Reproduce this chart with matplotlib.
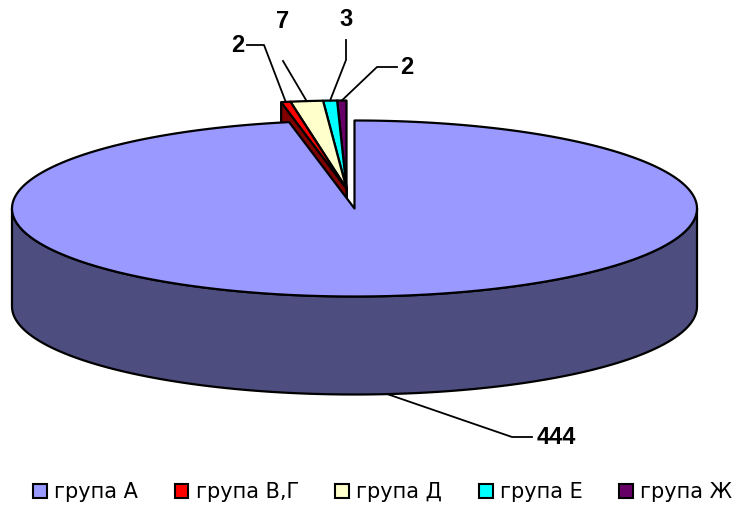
import numpy as np
import matplotlib.pyplot as plt
from matplotlib.patches import Polygon, Rectangle

# данни
labels = ['група А', 'група В,Г', 'група Д', 'група Е', 'група Ж']
values = [444, 2, 7, 3, 2]
top_colors = ['#9999FF', '#FF0000', '#FFFFCC', '#00FFFF', '#660066']
side_colors = ['#4D4D80', '#800000', '#80806A', '#008080', '#330033']

# геометрия на 3D питата (в пиксели)
cx, cy = 354.5, 208.5
rx, ry = 342.5, 88.0
depth = 98.0
explode_dx, explode_dy = -8.0, -20.0


def rim(theta, dx=0.0, dy=0.0):
    t = np.radians(theta)
    return np.column_stack([cx + dx + rx * np.cos(t), cy + dy - ry * np.sin(t)])


fig = plt.figure(figsize=(7.36, 5.08), dpi=100)
ax = fig.add_axes([0, 0, 1, 1])
ax.set_xlim(0, 736)
ax.set_ylim(508, 0)
ax.axis('off')

total = sum(values)
cum = np.concatenate([[0], np.cumsum(values)])
# Excel: по часовниковата стрелка от 12 часа
starts = 90 - 360 * cum[:-1] / total
ends = 90 - 360 * cum[1:] / total

lw = 1.6

# малките сектори (изместени назад), отдясно наляво
for i in range(len(values) - 1, 0, -1):
    a0, a1 = starts[i], ends[i]
    dx, dy = explode_dx, explode_dy
    c = np.array([[cx + dx, cy + dy]])
    r0 = rim(a0, dx, dy)
    side = np.vstack([c, r0, r0 + [0, depth], c + [0, depth]])
    ax.add_patch(Polygon(side, closed=True, fc=side_colors[i], ec='black', lw=lw))
    arc = rim(np.linspace(a0, a1, 20), dx, dy)
    ax.add_patch(Polygon(np.vstack([c, arc]), closed=True, fc=top_colors[i],
                         ec='black', lw=lw, joinstyle='round'))

# голям сектор - предна стена
th = np.linspace(180, 360, 200)
front_top = rim(th)
front_bot = rim(th[::-1]) + [0, depth]
ax.add_patch(Polygon(np.vstack([front_top, front_bot]), closed=True,
                     fc=side_colors[0], ec='black', lw=lw))

# голям сектор - горна повърхност
arc = rim(np.linspace(starts[0], ends[0], 400))
ax.add_patch(Polygon(np.vstack([[cx, cy], arc]), closed=True, fc=top_colors[0],
                     ec='black', lw=lw, joinstyle='round'))

# етикети с водещи линии
font = dict(fontsize=17, fontweight='bold', family='Liberation Sans')
mid = (starts + ends) / 2
anchors = [rim(mid[0])[0] + [0, depth]] + [rim(mid[i], explode_dx, explode_dy)[0] for i in range(1, 5)]
leaders = [
    [(532, 437), (512, 437)],
    [(247, 45), (264, 45)],
    [(283, 61)],
    [(346, 40), (346, 60)],
    [(397, 67), (377, 67)],
]
text_pos = [(537, 437, 'left'), (244, 45, 'right'), (283, 22, 'center'),
            (346, 20, 'center'), (400, 67, 'left')]
for i in range(5):
    pts = np.array(leaders[i] + [tuple(anchors[i])])
    ax.plot(pts[:, 0], pts[:, 1], color='black', lw=1.3)
    x, y, ha = text_pos[i]
    ax.text(x, y, str(values[i]), ha=ha, va='center', **font)

# легенда
handles = [Rectangle((0, 0), 1, 1, fc=top_colors[i], ec='black', lw=1.5) for i in range(5)]
fig.legend(handles, labels, loc='center', bbox_to_anchor=(0.52, 1 - 492 / 508), ncol=5,
           frameon=False, prop={'family': 'DejaVu Sans', 'size': 15},
           handlelength=0.66, handleheight=0.66, handletextpad=0.35, columnspacing=1.75)

fig.savefig('out.png', dpi=100)
